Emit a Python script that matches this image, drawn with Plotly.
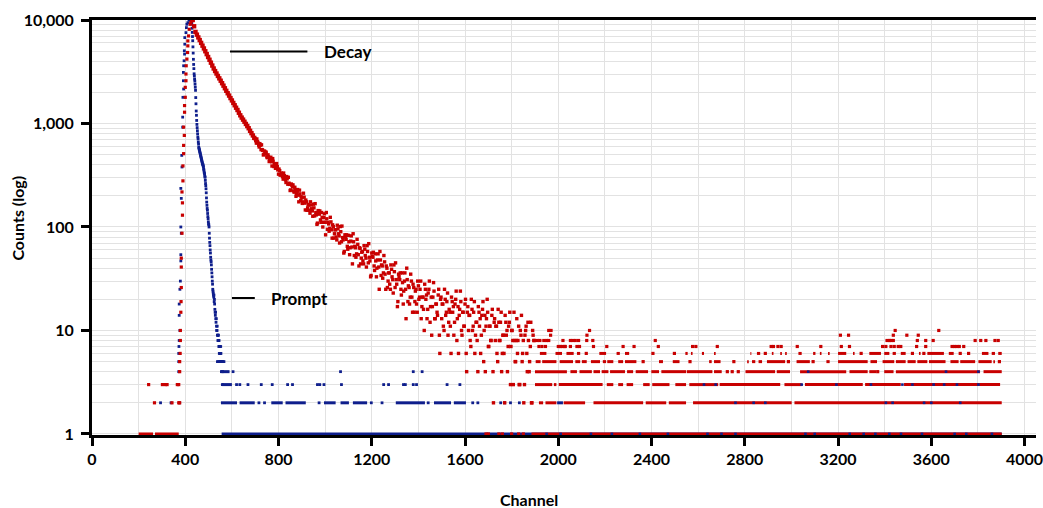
import plotly.graph_objects as go

# ---------------- data ----------------
# Prompt (blue) - rising edge
prompt_rise_ch = [376, 372, 372, 372, 373, 374, 377, 374, 374, 377, 379, 381, 381, 383, 381, 383, 381,
                  386, 385, 389, 389, 390, 393, 392, 392, 393, 395, 397, 396, 398, 398, 403, 405, 407,
                  411, 416, 420]
prompt_rise_ct = [2, 4, 5, 6, 7, 8, 10, 14, 18, 25, 30, 47, 54, 87, 100, 189, 236,
                  380, 492, 922, 1152, 1790, 2153, 2588, 3116, 3612, 4036, 4680, 5040, 5840, 6760, 7550, 8440, 9090,
                  9420, 10000, 10000]
# Prompt - falling edge, consecutive channels starting at 425
prompt_fall_start = 425
prompt_fall_ct = [9770, 9550, 9330, 9120, 8320, 7590, 6920, 6310, 5500, 4790,
                  4170, 3720, 3390, 3020, 2880, 2690, 2570, 2400, 2240, 2090,
                  1780, 1550, 1320, 1200, 1070, 980, 912, 851, 794, 741,
                  708, 661, 631, 589, 575, 562, 550, 537, 525, 513,
                  501, 490, 479, 468, 457, 447, 437, 427, 417, 407,
                  404, 398, 389, 380, 363, 355, 339, 331, 324, 309,
                  302, 282, 263, 251, 234, 214, 191, 174, 162, 151,
                  145, 135, 126, 120, 112, 107, 105, 100, 87, 78,
                  71, 66, 60, 56, 51, 48, 46, 43, 39, 36,
                  33, 30, 28, 25, 24, 23, 22, 21, 22, 19,
                  20, 18, 16, 15, 14, 15, 13, 12, 13, 11,
                  10, 10, 11, 9, 9, 8, 9, 9, 8, 7,
                  8, 6, 7, 7, 6, 6, 5, 7, 6, 5,
                  4, 5, 4, 5, 3, 4]
# Prompt - isolated low-count channels
prompt_pts_ch = [294, 339, 538, 543, 548, 557, 562, 566,
                 605, 1066, 1378, 1416,
                 620, 634, 669, 726, 773, 839, 860, 967, 977, 995, 1070, 1251, 1272, 1336, 1344, 1378, 1392, 1523, 1578,
                 716, 740, 974, 1198, 1244, 1442, 1633, 1655, 1753, 1770, 1795, 1833]
prompt_pts_ct = [2, 2, 5, 5, 5, 5, 5, 5,
                 4, 4, 4, 4,
                 3, 3, 3, 3, 3, 3, 3, 3, 3, 3, 3, 3, 3, 3, 3, 3, 3, 3, 3,
                 2, 2, 2, 2, 2, 2, 2, 2, 2, 2, 2, 2]
# Prompt - runs of consecutive channels sharing one count (start, end)
prompt_runs_1 = [(556, 3902)]
prompt_runs_2 = [(553, 622), (633, 698), (769, 818), (830, 917), (995, 1045), (1066, 1102),
                 (1119, 1180), (1303, 1428), (1467, 1540), (1552, 1604), (1995, 2020)]
prompt_runs_3 = [(557, 600)]
prompt_runs_4 = [(560, 590)]
# Prompt - channels showing through the decay bands
prompt_specks_ch = [1950, 2010, 2140, 2230, 2350, 2470, 2640, 2700, 2760, 3060, 3100, 3250, 3310, 3360,
                    3420, 3470, 3560, 3700, 3750, 3860,
                    2760, 2838, 2888, 3405, 3434, 3569, 3600, 3724,
                    2625, 2675, 3044, 3193, 3341, 3476, 3519, 3610, 3655, 3710, 3802,
                    3072, 3663, 3802]
prompt_specks_ct = [1] * 20 + [2] * 8 + [3] * 11 + [4] * 3

# Decay (red) - rising edge and early low counts
decay_rise_ch = [243, 268, 302, 315, 322, 343, 366, 372, 372, 376, 376, 376, 378, 379, 379, 381, 382,
                 383, 383, 383, 386, 388, 388, 386, 390, 390, 393, 393, 396, 393, 397, 397, 400, 400,
                 403, 403, 404, 407, 410, 411, 411, 414, 417, 421, 424, 428]
decay_rise_ct = [3, 2, 3, 3, 3, 2, 3, 3, 2, 2, 4, 5, 6, 8, 10, 15, 19,
                 26, 41, 50, 87, 130, 171, 218, 279, 389, 511, 614, 767, 922, 1285, 1490, 1790, 2234,
                 2588, 3007, 3612, 4190, 4853, 5623, 6281, 7015, 8131, 9090, 9420, 9800]
# Decay - smooth part, every 6th channel from 432
decay_a_start, decay_a_step = 432, 6
decay_a_ct = [10000, 8700, 7670, 7220, 6790, 6400, 6010, 5650, 5310, 4990,
              4680, 4390, 4130, 3870, 3630, 3400, 3210, 3040, 2880, 2730,
              2590, 2450, 2320, 2190, 2070, 1960, 1860, 1760, 1670, 1580,
              1500, 1420, 1350, 1270, 1200, 1140, 1090, 1040, 990, 945,
              900, 850, 807, 766, 726]
# Decay - scattered part, every 5th channel from 700
decay_b_start, decay_b_step = 700, 5
decay_b_ct = [711, 646, 668, 618, 639, 559, 559, 497, 542, 512, 476, 498, 429, 456, 427, 458, 384, 393, 369, 383,
              324, 350, 319, 325, 290, 313, 286, 307, 259, 265, 225, 260, 244, 223, 242, 198, 219, 203, 227, 180,
              191, 175, 194, 146, 175, 153, 163, 136, 163, 143, 166, 128, 138, 106, 144, 133, 117, 138, 100, 123,
              111, 138, 95, 107, 97, 112, 78, 101, 86, 94, 75, 96, 82, 101, 72, 79, 56, 84, 76, 65,
              83, 54, 73, 64, 86, 53, 63, 55, 68, 42, 62, 50, 58, 44, 61, 50, 66, 45, 51, 33,
              56, 51, 42, 55, 33, 48, 41, 58, 34, 42, 36, 46, 25, 40, 30, 36, 25, 39, 31, 43,
              26, 31, 17, 35, 31, 25, 36, 18, 30, 25, 40, 19, 26, 21, 30, 15, 26, 19, 25, 15,
              27, 21, 30, 17, 21, 10, 25, 22, 16, 25, 12, 21, 17, 29, 13, 18, 15, 22, 9, 20,
              13, 18, 10, 20, 15, 23, 12, 15, 6, 19, 17, 12, 20, 8, 17, 14, 24, 10, 15, 11,
              18, 6, 15, 10, 14, 7, 16, 11, 19, 9, 12, 4, 15, 13, 9, 16, 5, 14, 11, 20,
              7, 11, 8, 14, 4, 12, 8, 11, 5, 12, 8, 15, 6, 9, 2, 12, 10, 7, 12, 3,
              10, 8, 15, 5, 8, 6, 11, 3, 9, 5, 8, 3, 10, 6, 12, 4, 7, 2, 10, 8]
# Decay - scattered part, every 5th channel from 702
decay_c_start, decay_c_step = 702, 5
decay_c_ct = [682, 709, 648, 593, 617, 622, 550, 502, 532, 528, 467, 476, 446, 472, 388, 431, 408, 369, 410, 356,
              363, 317, 332, 306, 332, 299, 269, 292, 302, 258, 228, 254, 255, 217, 227, 210, 230, 175, 209, 196,
              169, 212, 170, 182, 145, 165, 145, 175, 150, 127, 153, 168, 131, 109, 137, 143, 111, 124, 111, 134,
              84, 120, 111, 91, 124, 94, 105, 78, 94, 80, 104, 86, 70, 90, 102, 75, 58, 80, 84, 61,
              72, 63, 82, 44, 72, 65, 51, 76, 54, 63, 44, 57, 47, 66, 53, 41, 58, 69, 47, 34,
              52, 57, 38, 47, 40, 55, 25, 48, 43, 32, 53, 35, 42, 26, 36, 28, 43, 33, 23, 37,
              45, 28, 19, 33, 36, 22, 29, 24, 36, 13, 31, 27, 18, 35, 21, 28, 15, 24, 18, 30,
              20, 25, 13, 21, 16, 28, 20, 13, 23, 30, 17, 9, 21, 24, 13, 18, 14, 25, 6, 21,
              18, 11, 25, 14, 19, 9, 16, 11, 21, 15, 9, 18, 24, 13, 6, 16, 19, 9, 15, 11,
              20, 4, 17, 14, 8, 20, 10, 15, 6, 12, 8, 17, 11, 6, 14, 19, 10, 4, 13, 15,
              7, 11, 8, 16, 2, 13, 11, 6, 16, 8, 12, 4, 9, 6, 14, 9, 4, 11, 15, 7,
              10, 3, 8, 5, 13, 8, 3, 10, 14, 6, 2, 9, 11, 4, 8, 5, 12, 2, 9, 8]
# Decay - isolated channels in the tail
decay_pts_ch = [1690, 1700, 1745, 1760, 1800, 1830, 1850,
                2725, 2746, 2772, 3370,
                2364, 2565, 2753, 2987, 3093, 3892,
                2120, 2406, 2498, 2888, 3299, 3519, 3568, 3724, 3760,
                1917, 1930, 1945, 2000, 2010, 2016, 2026, 2030, 2052, 2080, 2091, 2151, 2208, 2278, 2325,
                2429, 2576, 2590, 2682, 2913, 2923, 2942, 2956, 3025, 3126, 3214, 3249, 3391, 3405, 3427,
                3441, 3458, 3469, 3537, 3576, 3689, 3700, 3710, 3720, 3739,
                1910, 1921, 1938, 1950, 1959, 2020, 2052, 2063, 2073, 2087, 2122, 2148, 2416, 3410, 3420,
                3427, 3437, 3540, 3576, 3608, 3788, 3812, 3834, 3873, 3887,
                1967, 2123, 3210, 3245, 3437, 3495, 3544,
                1959, 1969, 2134, 3445, 3632]
decay_pts_ct = ([1] * 7 + [4] * 4 + [5] * 6 + [6] * 9 + [7] * 40 + [8] * 25 + [9] * 7 + [10] * 5)
# Decay - runs of consecutive channels sharing one count (start, end)
decay_runs_1 = [(200, 262), (270, 372), (1885, 3902)]
decay_runs_2 = [(1917, 1935), (1945, 1992), (2023, 2115), (2151, 2364), (2375, 2463), (2474, 2548),
                (2578, 3001), (3013, 3902)]
decay_runs_3 = [(1900, 1974), (1981, 1992), (2002, 2190), (2208, 2236), (2257, 2278), (2293, 2321),
                (2364, 2392), (2403, 2477), (2502, 2548), (2562, 2686), (2692, 2952), (2970, 3044),
                (3058, 3306), (3316, 3469), (3483, 3895)]
decay_runs_4 = [(1900, 2037), (2052, 2080), (2091, 2144), (2151, 2179), (2186, 2215), (2222, 2286),
                (2295, 2321), (2332, 2385), (2399, 2432), (2442, 2548), (2551, 2661), (2668, 2701),
                (2803, 2930), (2937, 2994), (3037, 3235), (3249, 3327), (3334, 3363), (3398, 3438),
                (3448, 3809), (3824, 3902)]
decay_runs_5 = [(1903, 1924), (1931, 1992), (2006, 2063), (2073, 2094), (2101, 2122), (2140, 2179),
                (2191, 2205), (2210, 2236), (2257, 2278), (2286, 2335), (2432, 2449), (2491, 2520),
                (2647, 2658), (2668, 2696), (2810, 2817), (2831, 2845), (2859, 2874), (2895, 2973),
                (3022, 3079), (3150, 3164), (3200, 3327), (3339, 3367), (3391, 3441), (3448, 3490),
                (3498, 3533), (3540, 3583), (3590, 3661), (3682, 3717), (3724, 3788), (3802, 3859),
                (3866, 3873)]
decay_runs_6 = [(1921, 1949), (1988, 2016), (2035, 2066), (2080, 2094), (2176, 2205), (2250, 2264),
                (2286, 2304), (2545, 2555), (2569, 2576), (2616, 2625), (2668, 2675), (2824, 2828),
                (2852, 2866), (2916, 2923), (2952, 2959), (2973, 2980), (3030, 3044), (3093, 3103),
                (3122, 3129), (3157, 3164), (3200, 3235), (3264, 3271), (3334, 3384), (3398, 3420),
                (3434, 3448), (3469, 3490), (3547, 3554), (3583, 3654), (3675, 3696), (3817, 3845),
                (3859, 3873), (3887, 3902)]

x_ticks = [0, 400, 800, 1200, 1600, 2000, 2400, 2800, 3200, 3600, 4000]
y_ticks = [1, 10, 100, 1000, 10000]
y_ticktext = ["1", "10", "100", "1,000", "10,000"]

# ---------------- figure ----------------
RED = "#C80000"
BLUE = "#0E1E8C"
FONT = "Lato"


def runs_xy(runs, level):
    xs, ys = [], []
    for a, b in runs:
        xs += [a, b, None]
        ys += [level, level, None]
    return xs, ys


def run_trace(run_sets, color):
    xs, ys = [], []
    for runs, level in run_sets:
        rx, ry = runs_xy(runs, level)
        xs += rx
        ys += ry
    return go.Scatter(x=xs, y=ys, mode="lines", line=dict(color=color, width=3),
                      hoverinfo="skip", showlegend=False)


def pts_trace(xs, ys, color, size=3.2):
    return go.Scatter(x=xs, y=ys, mode="markers",
                      marker=dict(symbol="square", size=size, color=color, line=dict(width=0)),
                      cliponaxis=False, showlegend=False)


prompt_fall_ch = list(range(prompt_fall_start, prompt_fall_start + len(prompt_fall_ct)))
decay_a_ch = list(range(decay_a_start, decay_a_start + decay_a_step * len(decay_a_ct), decay_a_step))
decay_b_ch = list(range(decay_b_start, decay_b_start + decay_b_step * len(decay_b_ct), decay_b_step))
decay_c_ch = list(range(decay_c_start, decay_c_start + decay_c_step * len(decay_c_ct), decay_c_step))

fig = go.Figure()
fig.add_trace(run_trace([(prompt_runs_1, 1), (prompt_runs_2, 2), (prompt_runs_3, 3), (prompt_runs_4, 4)], BLUE))
fig.add_trace(pts_trace(prompt_rise_ch + prompt_fall_ch + prompt_pts_ch,
                        prompt_rise_ct + prompt_fall_ct + prompt_pts_ct, BLUE, size=2.8))
fig.add_trace(run_trace([(decay_runs_1, 1), (decay_runs_2, 2), (decay_runs_3, 3), (decay_runs_4, 4),
                         (decay_runs_5, 5), (decay_runs_6, 6)], RED))
fig.add_trace(pts_trace(decay_rise_ch + decay_pts_ch, decay_rise_ct + decay_pts_ct, RED, size=3.2))
fig.add_trace(pts_trace(decay_a_ch, decay_a_ct, RED, size=4.4))
fig.add_trace(pts_trace(decay_b_ch + decay_c_ch, decay_b_ct + decay_c_ct, RED, size=3.4))
fig.add_trace(pts_trace(prompt_specks_ch, prompt_specks_ct, BLUE, size=2.6))

L, R, T, B = 92, 0, 20, 73
W, H = 1043, 508
pw, ph = W - L - R, H - T - B


def px(xp):
    return (xp - L) / pw


def py(yp):
    return (H - B - yp) / ph


grid = "#E2E2E2"
fig.update_layout(
    width=W, height=H, margin=dict(l=L, r=R, t=T, b=B),
    paper_bgcolor="white", plot_bgcolor="white",
    font=dict(family=FONT, color="black"),
    xaxis=dict(range=[0, 4049], tickvals=x_ticks, ticks="outside", ticklen=8, tickwidth=3,
               tickcolor="black", showline=True, linewidth=3, linecolor="black", mirror=True,
               showgrid=True, gridcolor=grid, gridwidth=1, zeroline=False,
               ticklabeloverflow="allow",
               minor=dict(dtick=200, tick0=0, showgrid=True, gridcolor=grid, gridwidth=1, ticks=""),
               tickfont=dict(size=16, family=FONT, color="black", weight="bold")),
    yaxis=dict(type="log", range=[-0.01, 4.0], tickvals=y_ticks, ticktext=y_ticktext,
               ticks="outside", ticklen=8, tickwidth=3, tickcolor="black",
               showline=True, linewidth=3, linecolor="black",
               showgrid=True, gridcolor=grid, gridwidth=1, zeroline=False,
               minor=dict(dtick="D1", showgrid=True, gridcolor=grid, gridwidth=1, ticks=""),
               tickfont=dict(size=16, family=FONT, color="black", weight="bold"),
               ticklabelstandoff=4),
)

fig.add_annotation(text="Channel", xref="paper", yref="paper", x=px(532), y=py(499),
                   xanchor="center", yanchor="middle", showarrow=False,
                   font=dict(size=16, family=FONT, color="black", weight="bold"))
fig.add_annotation(text="Counts (log)", xref="paper", yref="paper", x=px(17), y=py(218),
                   xanchor="center", yanchor="middle", showarrow=False, textangle=-90,
                   font=dict(size=16, family=FONT, color="black", weight="bold"))

# legend-like labels
fig.add_shape(type="line", xref="paper", yref="paper", x0=px(231), x1=px(309), y0=py(51.5), y1=py(51.5),
              line=dict(color="black", width=2))
fig.add_annotation(text="Decay", xref="paper", yref="paper", x=px(324), y=py(51.5),
                   xanchor="left", yanchor="middle", showarrow=False,
                   font=dict(size=17, family=FONT, color="black", weight="bold"))
fig.add_shape(type="line", xref="paper", yref="paper", x0=px(233), x1=px(256), y0=py(298), y1=py(298),
              line=dict(color="black", width=2))
fig.add_annotation(text="Prompt", xref="paper", yref="paper", x=px(270), y=py(298),
                   xanchor="left", yanchor="middle", showarrow=False,
                   font=dict(size=17, family=FONT, color="black", weight="bold"))

fig.write_html("out.html")
